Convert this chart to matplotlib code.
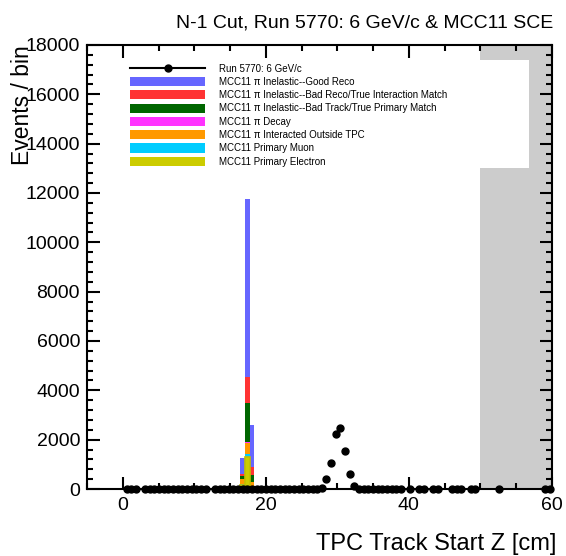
import numpy as np
import matplotlib
matplotlib.use("Agg")
import matplotlib.pyplot as plt
from matplotlib.patches import Rectangle, Patch
from matplotlib.lines import Line2D
from matplotlib.ticker import MultipleLocator

plt.rcParams['font.family'] = ['Liberation Sans', 'DejaVu Sans']

# Histogram binning: 100 bins of 0.65 cm from -5 to 60 cm
n_bins = 100
z_min, z_max = -5.0, 60.0

# Data (Run 5770) counts per bin; empty bins are not drawn
data_counts = [
    0, 0, 0, 0, 0, 0, 0, 0, 6, 4,        # 0-9
    5, 0, 3, 4, 6, 5, 3, 4, 5, 6,        # 10-19
    4, 3, 5, 6, 4, 5, 0, 4, 5, 3,        # 20-29
    6, 5, 4, 6, 5, 4, 6, 5, 7, 6,        # 30-39
    5, 6, 8, 7, 9, 8, 10, 12, 14, 18,    # 40-49
    45, 400, 1042, 2230, 2460, 1550, 600, 130, 12, 8,   # 50-59
    6, 5, 6, 4, 5, 6, 4, 5, 0, 4,        # 60-69
    0, 3, 4, 0, 3, 4, 0, 0, 3, 4,        # 70-79
    3, 0, 4, 3, 0, 0, 0, 0, 3, 0,        # 80-89
    0, 0, 0, 0, 0, 0, 0, 0, 3, 4,        # 90-99
]

# MC stacked components, filled only in bins 33, 34, 35
mc_bins = [33, 34, 35]
mc_electron = [150, 1310, 90]
mc_muon = [60, 95, 40]
mc_outside_tpc = [180, 445, 150]
mc_decay = [15, 65, 20]
mc_bad_track = [110, 1555, 270]
mc_bad_reco = [100, 1080, 335]
mc_good_reco = [655, 7200, 1690]

components = [
    ("MCC11 Primary Electron", mc_electron, "#cccc00"),
    ("MCC11 Primary Muon", mc_muon, "#00ccff"),
    ("MCC11 π Interacted Outside TPC", mc_outside_tpc, "#ff9900"),
    ("MCC11 π Decay", mc_decay, "#ff33ff"),
    ("MCC11 π Inelastic--Bad Track/True Primary Match", mc_bad_track, "#006600"),
    ("MCC11 π Inelastic--Bad Reco/True Interaction Match", mc_bad_reco, "#ff3333"),
    ("MCC11 π Inelastic--Good Reco", mc_good_reco, "#6666ff"),
]

data_label = "Run 5770: 6 GeV/c"
title = "N-1 Cut, Run 5770: 6 GeV/c & MCC11 SCE"
x_label = "TPC Track Start Z [cm]"
y_label = "Events / bin"

edges = np.linspace(z_min, z_max, n_bins + 1)
centers = 0.5 * (edges[:-1] + edges[1:])

W, H = 566, 556
fig = plt.figure(figsize=(W / 100, H / 100), dpi=100)
ax = fig.add_axes([87 / W, 1 - 489 / H, (552 - 87) / W, (489 - 45) / H])
ax.set_xlim(z_min, z_max)
ax.set_ylim(0, 18000)

# Excluded region shading
ax.axvspan(50, 60, color="#cccccc", lw=0, zorder=0)
ax.add_patch(Rectangle((50, 13000), 6.8, 4400, facecolor="white", lw=0, zorder=0.5))

# Stacked MC histograms
bottom = np.zeros(n_bins)
for label, vals, color in components:
    h = np.zeros(n_bins)
    h[mc_bins] = vals
    top = bottom + h
    ax.stairs(top, edges, baseline=bottom, fill=True, color=color, lw=0, zorder=2)
    bottom = top

# Outline of the lowest histogram along the baseline
electron_hist = np.zeros(n_bins)
electron_hist[mc_bins] = mc_electron
ax.stairs(electron_hist, edges, color="#c0c000", lw=1.2, zorder=2.5)

# Data points (non-empty bins only)
counts = np.array(data_counts, dtype=float)
mask = counts > 0
ax.plot(centers[mask], counts[mask], "o", color="black", ms=5, zorder=4, clip_on=False)

# Axes styling
for s in ax.spines.values():
    s.set_linewidth(1.5)
    s.set_zorder(5)
ax.xaxis.set_major_locator(MultipleLocator(20))
ax.xaxis.set_minor_locator(MultipleLocator(5))
ax.yaxis.set_major_locator(MultipleLocator(2000))
ax.yaxis.set_minor_locator(MultipleLocator(400))
ax.tick_params(which="both", direction="in", top=True, right=True, width=1.5, labelsize=14)
ax.tick_params(which="major", length=9)
ax.tick_params(which="minor", length=4.5)
ax.tick_params(axis="x", which="major", pad=6)
ax.tick_params(axis="y", which="major", pad=5)

# Title and axis titles
fig.text(553 / W, 1 - 28 / H, title, ha="right", va="baseline", fontsize=14)
fig.text(556 / W, 1 - 550 / H, x_label, ha="right", va="baseline", fontsize=17)
fig.text(29 / W, 1 - 45 / H, y_label, ha="right", va="baseline", rotation=90,
         rotation_mode="anchor", fontsize=16.5)

# Legend
handles = [Line2D([], [], color="black", marker="o", ms=5, lw=1.5)]
labels = [data_label]
for label, vals, color in reversed(components):
    handles.append(Patch(facecolor=color, edgecolor="none"))
    labels.append(label)
fs_px = 7 * 100 / 72
fig.legend(handles, labels, loc="upper left", bbox_to_anchor=(130 / W, 1 - 63.5 / H),
           frameon=False, fontsize=7, borderpad=0, borderaxespad=0,
           handlelength=75 / fs_px, handleheight=10.5 / fs_px, handletextpad=14 / fs_px,
           labelspacing=0.34, numpoints=1)

fig.savefig("out.png", dpi=100)
